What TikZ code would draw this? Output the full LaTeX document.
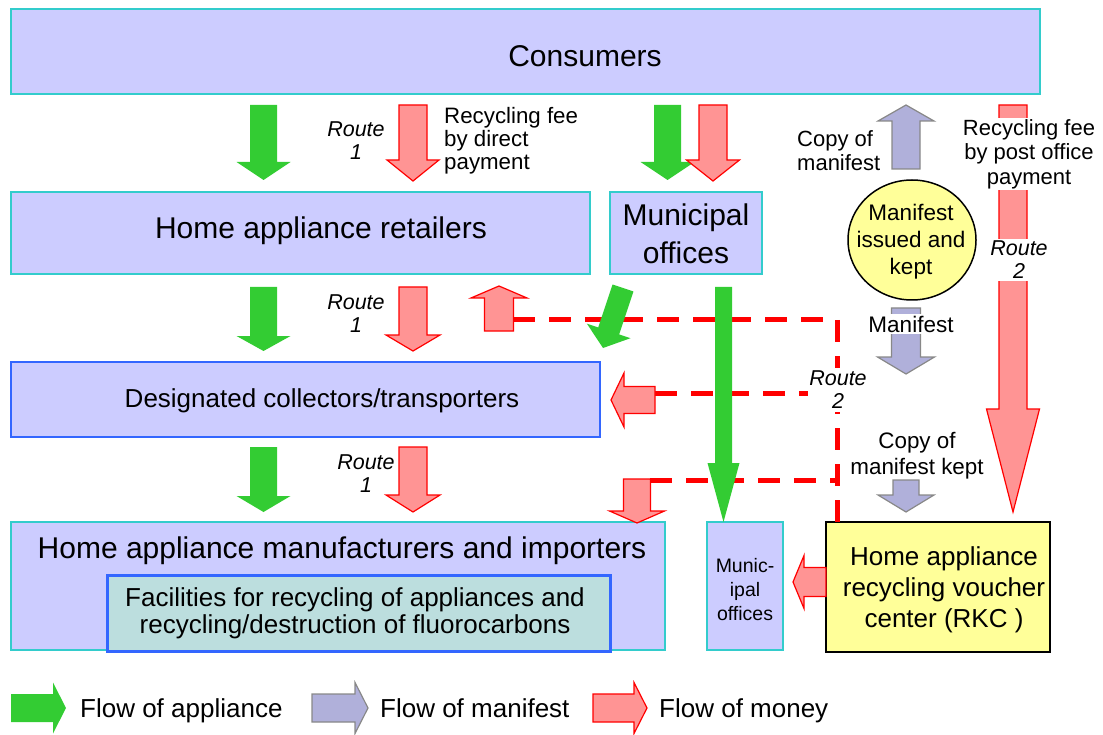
\documentclass[tikz,border=0pt]{standalone}
\usepackage{fontspec}
\setmainfont{Liberation Sans}
\usetikzlibrary{calc}
\definecolor{boxfill}{HTML}{CCCCFF}
\definecolor{boxcyan}{HTML}{33CCCC}
\definecolor{boxblue}{HTML}{3366FF}
\definecolor{appgreen}{HTML}{33CC33}
\definecolor{moneyfill}{HTML}{FF9494}
\definecolor{manfill}{HTML}{B0B0DA}
\definecolor{manedge}{HTML}{888888}
\definecolor{yel}{HTML}{FFFF99}
\definecolor{facfill}{HTML}{BCDEDE}
% #1 style, #2 tail, #3 tip, #4 shaft half width, #5 head half width, #6 head length
\newcommand\blockarr[6]{%
  \coordinate (ba-c) at ($#3!#6!#2$);
  \draw[#1] ($#2!#4!90:#3$) -- ($(ba-c)!#4!90:#3$) -- ($(ba-c)!#5!90:#3$) -- #3
    -- ($(ba-c)!#5!-90:#3$) -- ($(ba-c)!#4!-90:#3$) -- ($#2!#4!-90:#3$) -- cycle;
}
\begin{document}
\begin{tikzpicture}[x=1pt,y=-1pt,
  abox/.style={draw=boxcyan,fill=boxfill,line width=2pt,inner sep=0pt},
  txt/.style={inner sep=0pt,align=center},
  appl/.style={fill=appgreen,draw=none},
  money/.style={fill=moneyfill,draw=red,line width=1.2pt,line join=miter},
  manif/.style={fill=manfill,draw=manedge,line width=1.2pt},
  dashline/.style={draw=red,line width=5pt,dash pattern=on 22pt off 14pt},
  route/.style={inner sep=1pt,align=center,font=\itshape\fontsize{21.5}{23}\selectfont},
  whitebg/.style={fill=white},
]
\useasboundingbox (0,0) rectangle (1103,735);

% boxes
\node[abox,minimum width=1029pt,minimum height=85pt] (consumers) at (525.5,51.5) {};
\node[txt,font=\fontsize{30}{36}\selectfont] (consumers-t) at (585,56) {Consumers};

\node[abox,minimum width=579pt,minimum height=82pt] (retailers) at (300.5,233) {};
\node[txt,font=\fontsize{30}{36}\selectfont] (retailers-t) at (321,231) {Home appliance retailers};

\node[abox,minimum width=152pt,minimum height=82pt] (muni) at (686,233) {};
\node[txt,font=\fontsize{30}{38}\selectfont] (muni-t) at (686,234) {Municipal\\offices};

\node[abox,draw=boxblue,minimum width=589pt,minimum height=75pt] (collect) at (305.5,399.5) {};
\node[txt,font=\fontsize{26}{30}\selectfont] (collect-t) at (322,401) {Designated collectors/transporters};

\node[abox,minimum width=654pt,minimum height=128pt] (manuf) at (338,586) {};
\node[txt,font=\fontsize{30}{36}\selectfont] (manuf-t) at (342,551) {Home appliance manufacturers and importers};

\node[draw=boxblue,fill=facfill,line width=3pt,minimum width=503pt,minimum height=76pt,inner sep=0pt] (facil) at (358.5,613) {};
\node[txt,font=\fontsize{26}{27}\selectfont] (facil-t) at (355,613) {Facilities for recycling of appliances and\\recycling/destruction of fluorocarbons};

\node[abox,minimum width=76pt,minimum height=128pt] (muni2) at (745,586) {};
\node[txt,font=\fontsize{19.5}{24}\selectfont] (muni2-t) at (745,590) {Munic-\\ipal\\offices};

\node[draw=black,fill=yel,line width=2pt,minimum width=224pt,minimum height=130pt,inner sep=0pt] (rkc) at (938,587) {};
\node[txt,font=\fontsize{26}{31}\selectfont] (rkc-t) at (944,590) {Home appliance\\recycling voucher\\center (RKC )};

\draw[fill=yel,line width=1.5pt] (912,240) ellipse [x radius=64, y radius=60];
\node[txt,font=\fontsize{22.5}{27}\selectfont] (issued) at (911,242) {Manifest\\issued and\\kept};

% dashed route 2 lines
\draw[dashline] (513,320) -- (837,320) -- (837,522);
\draw[dashline] (655,393) -- (837,393);
\draw[dashline] (650,480) -- (837,480);

% appliance flows
\blockarr{appl}{(263.5,105)}{(263.5,180)}{13.5pt}{27pt}{18pt}
\blockarr{appl}{(263.5,287)}{(263.5,351)}{13.5pt}{27pt}{15pt}
\blockarr{appl}{(263.5,447)}{(263.5,512)}{13.5pt}{27pt}{16pt}
\blockarr{appl}{(667.5,105)}{(667.5,180)}{13.5pt}{27pt}{18pt}
\blockarr{appl}{(623,288)}{(603,348)}{11pt}{23pt}{18pt}
\blockarr{appl}{(723.5,287)}{(723.5,522)}{8.5pt}{16pt}{59pt}

% money flows
\blockarr{money}{(413,105)}{(413,181)}{14pt}{26pt}{21pt}
\blockarr{money}{(713,105)}{(713,181)}{14pt}{26.5pt}{21pt}
\blockarr{money}{(413,287)}{(413,351)}{14pt}{27pt}{16pt}
\blockarr{money}{(413,447)}{(413,512)}{14pt}{27pt}{17pt}
\blockarr{money}{(499,331)}{(499,286)}{14.5pt}{28pt}{12pt}
\blockarr{money}{(655,400)}{(611,400)}{13.5pt}{27pt}{13pt}
\blockarr{money}{(637,479)}{(637,523)}{13.5pt}{27.5pt}{12pt}
\blockarr{money}{(826,582)}{(793,582)}{14.5pt}{26.5pt}{11pt}
\blockarr{money}{(1013,105)}{(1013,512)}{14pt}{26.5pt}{103pt}

% manifest flows
\blockarr{manif}{(906,169)}{(906,105)}{14pt}{28pt}{16pt}
\blockarr{manif}{(906,308)}{(906,374)}{14.5pt}{28.5pt}{17pt}
\blockarr{manif}{(906,480)}{(906,512)}{13pt}{28pt}{17pt}

% labels
\node[route] (r1a) at (356,141) {Route\\1};
\node[route] (r1b) at (356,314) {Route\\1};
\node[route] (r1c) at (366,474) {Route\\1};
\node[txt,align=left,anchor=west,font=\fontsize{22.3}{23}\selectfont] (feedirect) at (444,141) {Recycling fee\\by direct\\payment};
\node[txt,align=left,anchor=west,font=\fontsize{22}{24}\selectfont] (copyman) at (797,151) {Copy of\\manifest};
\node[txt,whitebg,inner sep=1pt,font=\fontsize{22}{24.5}\selectfont] (feepost) at (1029,154) {Recycling fee\\by post office\\payment};
\node[route,whitebg,inner ysep=2pt] (r2a) at (1019,260) {Route\\2};
\node[route,whitebg,inner ysep=3pt] (r2b) at (838,390) {Route\\2};
\node[txt,whitebg,inner sep=2pt,font=\fontsize{22.5}{26}\selectfont] (manlab) at (911,324) {Manifest};
\node[txt,font=\fontsize{22.4}{26}\selectfont] (copykept) at (917,456) {Copy of\\manifest kept};

% legend
\blockarr{appl}{(11,708)}{(66,708)}{14pt}{25.5pt}{13pt}
\node[txt,anchor=base west,font=\fontsize{26}{30}\selectfont] (lg1) at (80,717) {Flow of appliance};
\blockarr{manif}{(312,708)}{(368,708)}{14pt}{25.5pt}{13pt}
\node[txt,anchor=base west,font=\fontsize{26}{30}\selectfont] (lg2) at (380,717) {Flow of manifest};
\blockarr{money}{(593,708)}{(647,708)}{14pt}{25.5pt}{13pt}
\node[txt,anchor=base west,font=\fontsize{26}{30}\selectfont] (lg3) at (659,717) {Flow of money};
\end{tikzpicture}
\end{document}
